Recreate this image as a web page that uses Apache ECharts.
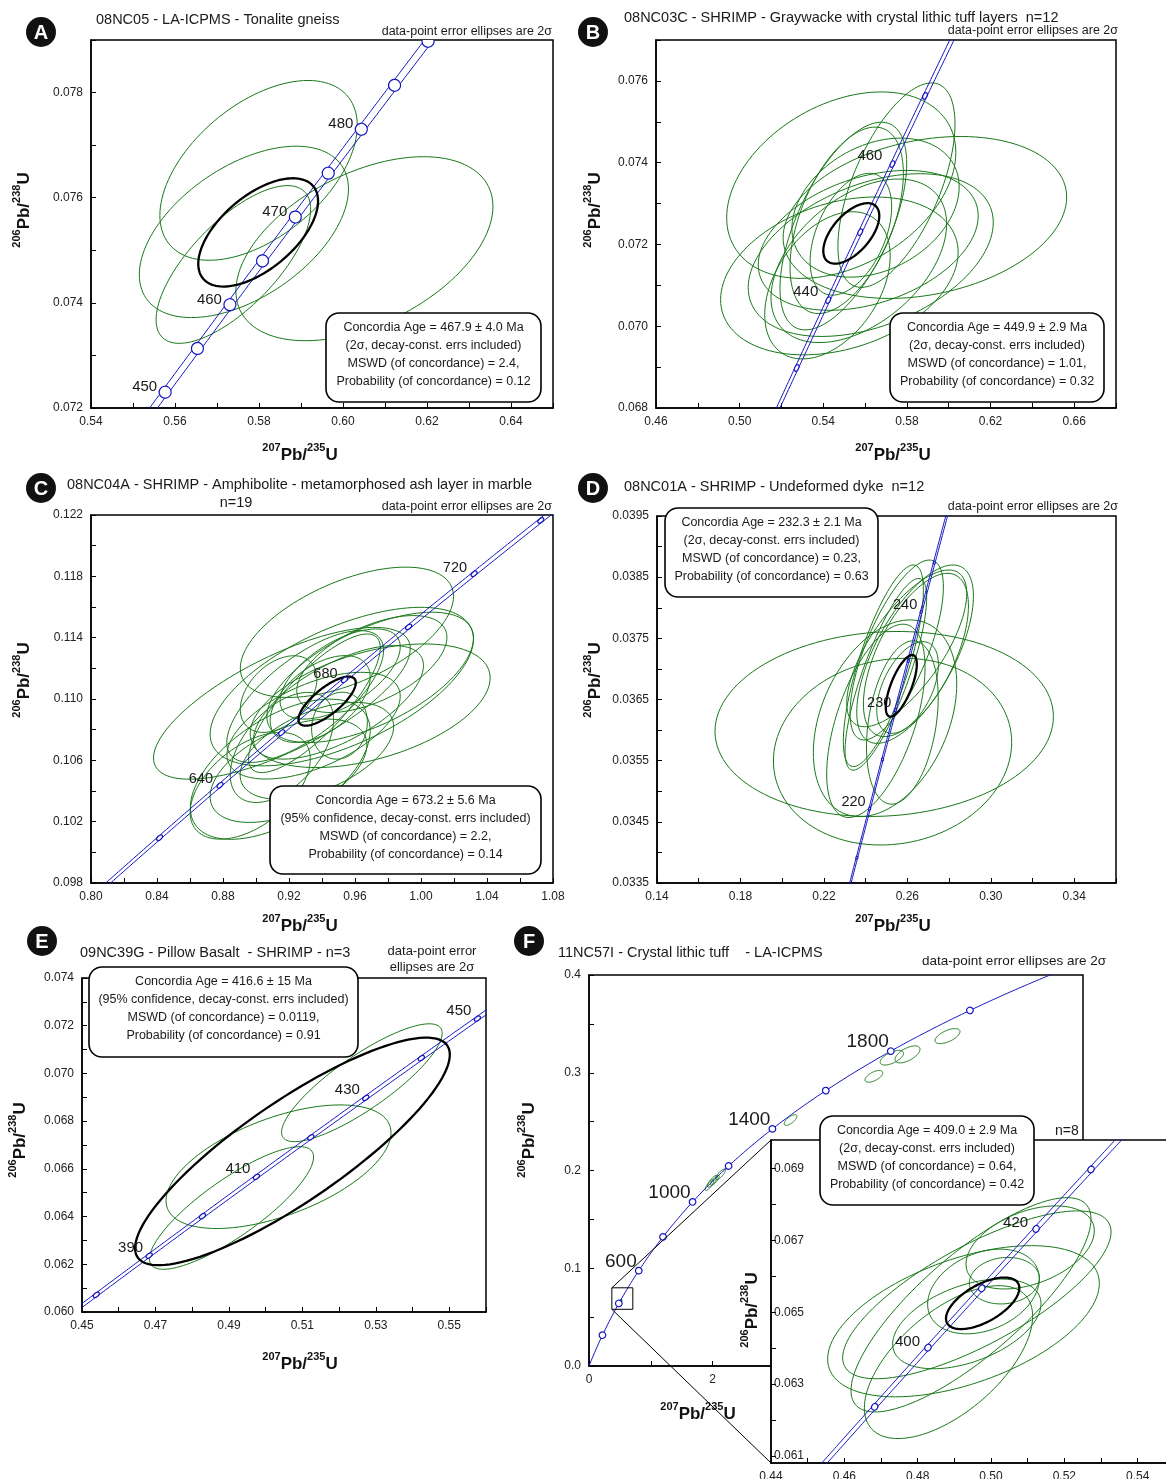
<!DOCTYPE html>
<html><head><meta charset="utf-8">
<script src="https://cdn.jsdelivr.net/npm/echarts@6/dist/echarts.min.js"></script>
<style>html,body{margin:0;padding:0;background:#fff}#c{width:1166px;height:1479px}</style>
</head><body><div id="c"></div>
<script>
// ---------------- DATA ----------------
// decay constants (per year) and relative 2-sigma error on lambda235 (concordia band)
const L235 = 9.8485e-10, L238 = 1.55125e-10, L235_REL = 0.00136;

// ellipses: [centre 207Pb/235U, centre 206Pb/238U, 2s half-width x, 2s half-width y, error correlation]
const A_ELL = [
  [0.5799, 0.07652, 0.0235, 0.00171, 0.50],
  [0.5764, 0.07535, 0.0249, 0.00163, 0.50],
  [0.5739, 0.07473, 0.0184, 0.00150, 0.70],
  [0.6051, 0.07503, 0.0306, 0.00175, 0.46]
];
const A_MEAN = [[0.5798, 0.07534, 0.01426, 0.00103, 0.58]];
const A_AGES = [450, 455, 460, 465, 470, 475, 480, 485, 490];
const A_LABELS = [450, 460, 470, 480, 490];

const B_ELL = [
  [0.5486, 0.07345, 0.0548, 0.00228, 0.35],
  [0.5886, 0.07266, 0.0678, 0.00198, 0.25],
  [0.5750, 0.07345, 0.0280, 0.00250, 0.60],
  [0.5477, 0.07123, 0.0568, 0.00193, 0.30],
  [0.5627, 0.07174, 0.0586, 0.00199, 0.40],
  [0.5496, 0.07245, 0.0303, 0.00254, 0.60],
  [0.5512, 0.07259, 0.0271, 0.00228, 0.50],
  [0.5615, 0.07210, 0.0526, 0.00171, 0.35],
  [0.5532, 0.07225, 0.0195, 0.00149, 0.45],
  [0.5570, 0.07160, 0.0420, 0.00200, 0.45],
  [0.5420, 0.07100, 0.0300, 0.00180, 0.40],
  [0.5650, 0.07290, 0.0400, 0.00170, 0.30]
];
const B_MEAN = [[0.5534, 0.07227, 0.01339, 0.00074, 0.58]];
const B_AGES = [430, 440, 450, 460, 470];
const B_LABELS = [440, 460];

const C_ELL = [
  [0.9551, 0.11435, 0.0646, 0.00425, 0.55],
  [0.9157, 0.10972, 0.0778, 0.00495, 0.72],
  [0.9692, 0.10956, 0.0727, 0.00403, 0.45],
  [0.9520, 0.11081, 0.0798, 0.00517, 0.60],
  [0.9692, 0.11141, 0.0626, 0.00425, 0.60],
  [0.9147, 0.10542, 0.0545, 0.00457, 0.55],
  [0.9197, 0.10532, 0.0475, 0.00337, 0.50],
  [0.9298, 0.11016, 0.0475, 0.00430, 0.70],
  [0.9354, 0.10972, 0.0399, 0.00452, 0.80],
  [0.9500, 0.10978, 0.0515, 0.00370, 0.65],
  [0.9389, 0.11000, 0.0303, 0.00283, 0.50],
  [0.9506, 0.10826, 0.0169, 0.00218, 0.10],
  [0.9157, 0.10684, 0.0313, 0.00359, 0.50],
  [0.9349, 0.10826, 0.0525, 0.00348, 0.55],
  [0.9510, 0.11163, 0.0364, 0.00294, 0.60],
  [0.9137, 0.11032, 0.0232, 0.00250, 0.40],
  [0.9702, 0.11228, 0.0455, 0.00316, 0.55],
  [0.9369, 0.10662, 0.0465, 0.00316, 0.50],
  [0.8965, 0.10434, 0.0364, 0.00348, 0.50]
];
const C_MEAN = [[0.9431, 0.10986, 0.01737, 0.00160, 0.75]];
const C_AGES = [620, 640, 660, 680, 700, 720, 740];
const C_LABELS = [640, 680, 720];

const D_ELL = [
  [0.2489, 0.036100, 0.0811, 0.001512, 0.08],
  [0.2529, 0.035647, 0.0571, 0.001526, 0.10],
  [0.2493, 0.036193, 0.03436, 0.001608, 0.35],
  [0.2449, 0.036151, 0.02357, 0.001580, 0.55],
  [0.2576, 0.036124, 0.01718, 0.001335, 0.30],
  [0.2485, 0.037051, 0.01918, 0.001648, 0.75],
  [0.2549, 0.037309, 0.02237, 0.001471, 0.70],
  [0.2637, 0.037241, 0.02796, 0.001458, 0.65],
  [0.2597, 0.037336, 0.02876, 0.001281, 0.70],
  [0.2641, 0.037228, 0.02517, 0.001335, 0.60],
  [0.2497, 0.036912, 0.01957, 0.001567, 0.80],
  [0.2601, 0.036696, 0.01478, 0.000749, 0.50]
];
const D_MEAN = [[0.2571, 0.036724, 0.00743, 0.000504, 0.70]];
const D_AGES = [215, 220, 225, 230, 235, 240, 245];
const D_LABELS = [220, 230, 240];

const E_ELL = [
  [0.5262, 0.06961, 0.02186, 0.00247, 0.84],
  [0.5035, 0.06609, 0.03063, 0.00259, 0.55],
  [0.4907, 0.06436, 0.02235, 0.00257, 0.83]
];
const E_MEAN = [[0.5073, 0.06673, 0.04285, 0.00477, 0.85]];
const E_AGES = [380, 390, 400, 410, 420, 430, 440, 450];
const E_LABELS = [390, 410, 430, 450];

const F_ELL = [
  [4.905, 0.3154, 0.189, 0.0075, 0.6],
  [5.158, 0.3188, 0.202, 0.0087, 0.6],
  [5.806, 0.3375, 0.202, 0.0077, 0.6],
  [4.614, 0.2963, 0.143, 0.0060, 0.6],
  [3.264, 0.2516, 0.1025, 0.00545, 0.7],
  [1.95, 0.185, 0.07, 0.0055, 0.8],
  [2.00, 0.189, 0.08, 0.0060, 0.8],
  [2.04, 0.190, 0.07, 0.0050, 0.8],
  [2.13, 0.196, 0.08, 0.0055, 0.8]
];
const F_AGES = [200, 400, 600, 800, 1000, 1200, 1400, 1600, 1800, 2000];
const F_LABELS = [600, 1000, 1400, 1800];
const F_ZOOM_BOX = [0.37, 0.058, 0.71, 0.080];

const FI_ELL = [
  [0.4925, 0.064750, 0.03705, 0.002106, 0.50],
  [0.49614, 0.065486, 0.0366, 0.002338, 0.75],
  [0.49455, 0.065208, 0.03273, 0.002986, 0.80],
  [0.48841, 0.063611, 0.02295, 0.002130, 0.60],
  [0.49341, 0.064676, 0.02023, 0.001250, 0.45],
  [0.49795, 0.065579, 0.01523, 0.001180, 0.30],
  [0.50364, 0.065880, 0.00955, 0.000648, 0.10],
  [0.51068, 0.066806, 0.0175, 0.001157, 0.40]
];
const FI_MEAN = [[0.49773, 0.06525, 0.0100, 0.000718, 0.59]];
const FI_AGES = [390, 400, 410, 420, 430];
const FI_LABELS = [400, 420];
const FI_Y_LABELS = [0.061, 0.063, 0.065, 0.067, 0.069];
const FI_Y_TICKS = [0.061, 0.062, 0.063, 0.064, 0.065, 0.066, 0.067, 0.068, 0.069];

// ---------------- STYLE / HELPERS ----------------
const FF = '"Liberation Sans", Arial, Helvetica, sans-serif';
const BLUE = '#1414c0', GREEN = '#187818';

function conc(t, s) { s = s || 0; return [Math.expm1(L235 * (1 + s * L235_REL) * t * 1e6), Math.expm1(L238 * t * 1e6)]; }
function concCurve(t0, t1, s) { const p = []; const n = 400; for (let i = 0; i <= n; i++) p.push(conc(t0 + (t1 - t0) * i / n, s)); return p; }

function ellipseRender(color, width) {
  return function (params, api) {
    const cx = api.value(0), cy = api.value(1), sx = api.value(2), sy = api.value(3), r = api.value(4);
    const q = Math.sqrt(1 - r * r), pts = [];
    for (let i = 0; i < 120; i++) {
      const th = i / 120 * 2 * Math.PI, c = Math.cos(th), s = Math.sin(th);
      pts.push(api.coord([cx + sx * c, cy + sy * (r * c + q * s)]));
    }
    return { type: 'polygon', shape: { points: pts }, style: { fill: 'none', stroke: color, lineWidth: width }, silent: true };
  };
}
function markerRender(m, labels) {
  return function (params, api) {
    const t = api.value(2);
    const p = api.coord([api.value(0), api.value(1)]);
    const p2 = api.coord(conc(t + 1));
    const ang = Math.atan2(p2[1] - p[1], p2[0] - p[0]);
    const ch = [{ type: 'ellipse', shape: { cx: 0, cy: 0, rx: m.rx, ry: m.ry }, x: p[0], y: p[1], rotation: -ang,
      style: { fill: '#fff', stroke: BLUE, lineWidth: 1.2 } }];
    if (labels.indexOf(t) >= 0) ch.push({ type: 'text', x: p[0] - m.dx, y: p[1] - m.dy,
      style: { text: String(t), align: 'right', textAlign: 'right', verticalAlign: 'middle', textVerticalAlign: 'middle',
        font: m.fs + 'px ' + FF, fill: '#1a1a1a' } });
    return { type: 'group', children: ch };
  };
}
function panelSeries(g, ell, mean, ages, labels, tr, m, zb, band) {
  const s = [];
  s.push({ type: 'custom', xAxisIndex: g, yAxisIndex: g, data: ell, encode: { x: 0, y: 1 }, renderItem: ellipseRender(GREEN, 1), clip: true, z: zb + 2, silent: true });
  (band ? [-1, 1] : [0]).forEach(sg => s.push({ type: 'line', xAxisIndex: g, yAxisIndex: g, data: concCurve(tr[0], tr[1], sg),
    showSymbol: false, symbol: 'none', lineStyle: { color: BLUE, width: 1 }, z: zb + 3, silent: true, clip: true }));
  if (mean) s.push({ type: 'custom', xAxisIndex: g, yAxisIndex: g, data: mean, encode: { x: 0, y: 1 }, renderItem: ellipseRender('#000', 2.3), clip: true, z: zb + 4, silent: true });
  s.push({ type: 'custom', xAxisIndex: g, yAxisIndex: g, data: ages.map(a => { const p = conc(a); return [p[0], p[1], a]; }),
    encode: { x: 0, y: 1 }, renderItem: markerRender(m, labels), clip: true, z: zb + 5, silent: true });
  return s;
}
function fmt(base, step, dec) { return v => { const k = (v - base) / step; return Math.abs(k - Math.round(k)) < 1e-4 ? v.toFixed(dec) : ''; }; }
function axis(g, min, max, interval, f, minor, extra) {
  return Object.assign({ type: 'value', gridIndex: g, min, max, interval, scale: true,
    axisLine: { show: true, onZero: false, lineStyle: { color: '#000', width: 1.5 } },
    axisTick: { show: true, inside: true, length: 5, lineStyle: { color: '#000', width: 1 } },
    minorTick: { show: !!minor, splitNumber: 2, length: 5, lineStyle: { color: '#000', width: 1 } },
    splitLine: { show: false }, minorSplitLine: { show: false },
    axisLabel: { formatter: f, color: '#222', fontSize: 12, fontFamily: FF, margin: 8 } }, extra || {});
}

// ---------------- LAYOUT ----------------
const grids = [
  { left: 91, top: 40, width: 462, height: 368 },
  { left: 656, top: 40, width: 460, height: 368 },
  { left: 91, top: 515, width: 462, height: 368 },
  { left: 657, top: 516, width: 459, height: 367 },
  { left: 82, top: 978, width: 404, height: 334 },
  { left: 589, top: 975, width: 494, height: 391 },
  { left: 771, top: 1140, width: 440, height: 323, z: 20, backgroundColor: '#fff' }
].map(g => Object.assign({ show: true, borderColor: '#000', borderWidth: 1.5, containLabel: false, outerBoundsMode: 'none' }, g));

const xAxes = [
  axis(0, 0.54, 0.65, 0.02, fmt(0.54, 0.02, 2), true),
  axis(1, 0.46, 0.68, 0.02, fmt(0.46, 0.04, 2), false),
  axis(2, 0.80, 1.08, 0.04, fmt(0.80, 0.04, 2), true),
  axis(3, 0.14, 0.36, 0.02, fmt(0.14, 0.04, 2), false),
  axis(4, 0.45, 0.56, 0.01, fmt(0.45, 0.02, 2), false),
  axis(5, 0, 8, 2, fmt(0, 2, 0), true),
  axis(6, 0.44, 0.56, 0.02, fmt(0.44, 0.02, 2), true, { z: 21 })
];
const yAxes = [
  axis(0, 0.072, 0.079, 0.002, fmt(0.072, 0.002, 3), true),
  axis(1, 0.068, 0.077, 0.002, fmt(0.068, 0.002, 3), true),
  axis(2, 0.098, 0.122, 0.002, fmt(0.098, 0.004, 3), false),
  axis(3, 0.0335, 0.0395, 0.0005, fmt(0.0335, 0.001, 4), false),
  axis(4, 0.060, 0.074, 0.002, fmt(0.060, 0.002, 3), true),
  axis(5, 0, 0.4, 0.1, fmt(0, 0.1, 1), true),
  {
    type: 'value', gridIndex: 6, min: 0.0608, max: 0.0698, z: 21,
    axisLine: { show: true, onZero: false, lineStyle: { color: '#000', width: 1.5 } },
    axisTick: { show: true, inside: true, length: 5, customValues: FI_Y_TICKS, lineStyle: { color: '#000' } },
    splitLine: { show: false },
    axisLabel: { inside: true, customValues: FI_Y_LABELS, formatter: v => v.toFixed(3), color: '#222', fontSize: 12, fontFamily: FF, margin: 3 }
  }
];

let series = [];
series = series.concat(panelSeries(0, A_ELL, A_MEAN, A_AGES, A_LABELS, [440, 500], { rx: 6, ry: 6, dx: 8, dy: 5, fs: 15 }, 0, true));
series = series.concat(panelSeries(1, B_ELL, B_MEAN, B_AGES, B_LABELS, [410, 490], { rx: 3.5, ry: 2, dx: 10, dy: 8, fs: 15 }, 0, true));
series = series.concat(panelSeries(2, C_ELL, C_MEAN, C_AGES, C_LABELS, [590, 760], { rx: 3.5, ry: 2, dx: 7, dy: 6, fs: 14.5 }, 0, true));
series = series.concat(panelSeries(3, D_ELL, D_MEAN, D_AGES, D_LABELS, [205, 255], { rx: 1.5, ry: 1, dx: 4, dy: 7, fs: 14.5 }, 0, true));
series = series.concat(panelSeries(4, E_ELL, E_MEAN, E_AGES, E_LABELS, [370, 460], { rx: 3.5, ry: 2, dx: 6, dy: 7.5, fs: 15 }, 0, true));
series = series.concat(panelSeries(5, F_ELL.concat(FI_ELL), null, F_AGES, F_LABELS, [0, 2400], { rx: 3.3, ry: 3.3, dx: 2, dy: 9, fs: 19 }, 0, false));
series.push({ type: 'custom', xAxisIndex: 5, yAxisIndex: 5, data: [F_ZOOM_BOX], encode: { x: 0, y: 1 }, clip: false, z: 6, silent: true,
  renderItem: (p, api) => { const a = api.coord([api.value(0), api.value(3)]), b = api.coord([api.value(2), api.value(1)]);
    return { type: 'rect', shape: { x: a[0], y: a[1], width: b[0] - a[0], height: b[1] - a[1] }, style: { fill: 'none', stroke: '#000', lineWidth: 1 } }; } });
series = series.concat(panelSeries(6, FI_ELL, FI_MEAN, FI_AGES, FI_LABELS, [370, 440], { rx: 3.5, ry: 3, dx: 8, dy: 6, fs: 15 }, 20, true));

// ---------------- ANNOTATIONS ----------------
const G = [];
let gid = 0;
function add(el) { el.id = 'g' + (gid++); if (el.z == null) el.z = 100; G.push(el); }
function letter(x, y, L) {
  add({ type: 'circle', shape: { cx: x, cy: y, r: 15 }, style: { fill: '#111' } });
  add({ type: 'text', z: 101, style: { text: L, x: x, y: y + 1, align: 'center', textAlign: 'center', verticalAlign: 'middle', textVerticalAlign: 'middle', font: 'bold 20px ' + FF, fill: '#fff' } });
}
function txt(x, y, s, size, align) {
  add({ type: 'text', style: { text: s, x: x, y: y, align: align || 'left', textAlign: align || 'left', verticalAlign: 'middle', textVerticalAlign: 'middle', font: size + 'px ' + FF, fill: '#1a1a1a' } });
}
function box(x, y, w, h, lines) {
  add({ type: 'rect', shape: { x: x, y: y, width: w, height: h, r: 13 }, style: { fill: '#fff', stroke: '#000', lineWidth: 1.6 } });
  lines.forEach((l, i) => add({ type: 'text', z: 101, style: { text: l, x: x + w / 2, y: y + 15 + i * 17.8, align: 'center', textAlign: 'center', verticalAlign: 'middle', textVerticalAlign: 'middle', font: '12.5px ' + FF, fill: '#1a1a1a' } }));
}
function axTitle(x, y, a, b, rot) {
  const rs = { fontSize: 11, fontWeight: 'bold', fontFamily: FF, verticalAlign: 'top', lineHeight: 12, fill: '#111' };
  const rb = { fontSize: 17, fontWeight: 'bold', fontFamily: FF, verticalAlign: 'bottom', lineHeight: 22, fill: '#111' };
  add({ type: 'text', x: x, y: y, rotation: rot ? Math.PI / 2 : 0,
    style: { text: '{s|' + a + '}{b|Pb/}{s|' + b + '}{b|U}', x: 0, y: 0, align: 'center', textAlign: 'center', verticalAlign: 'middle', textVerticalAlign: 'middle', rich: { s: rs, b: rb } } });
}
const DP = 'data-point error ellipses are 2σ';
letter(41, 32, 'A'); letter(593, 32, 'B'); letter(41, 488, 'C'); letter(593, 488, 'D'); letter(42, 941, 'E'); letter(529, 941, 'F');
txt(96, 20, '08NC05 - LA-ICPMS - Tonalite gneiss', 14.5);
txt(624, 18, '08NC03C - SHRIMP - Graywacke with crystal lithic tuff layers  n=12', 14.5);
txt(67, 485, '08NC04A - SHRIMP - Amphibolite - metamorphosed ash layer in marble', 14.5);
txt(236, 503, 'n=19', 14.5, 'center');
txt(624, 487, '08NC01A - SHRIMP - Undeformed dyke  n=12', 14.5);
txt(80, 953, '09NC39G - Pillow Basalt  - SHRIMP - n=3', 14.5);
txt(558, 953, '11NC57I - Crystal lithic tuff    - LA-ICPMS', 14.5);
txt(1055, 1131, 'n=8', 14);
txt(552, 32, DP, 12.5, 'right'); txt(1118, 31, DP, 12.5, 'right');
txt(552, 507, DP, 12.5, 'right'); txt(1118, 507, DP, 12.5, 'right');
txt(432, 951, 'data-point error', 13, 'center'); txt(432, 967, 'ellipses are 2σ', 13, 'center');
txt(1106, 961, DP, 13.5, 'right');
box(326, 313, 215, 89, ['Concordia Age = 467.9 ± 4.0 Ma', '(2σ, decay-const. errs included)', 'MSWD (of concordance) = 2.4,', 'Probability (of concordance) = 0.12']);
box(890, 313, 214, 89, ['Concordia Age = 449.9 ± 2.9 Ma', '(2σ, decay-const. errs included)', 'MSWD (of concordance) = 1.01,', 'Probability (of concordance) = 0.32']);
box(270, 786, 271, 88, ['Concordia Age = 673.2 ± 5.6 Ma', '(95% confidence, decay-const. errs included)', 'MSWD (of concordance) = 2.2,', 'Probability (of concordance) = 0.14']);
box(665, 508, 213, 89, ['Concordia Age = 232.3 ± 2.1 Ma', '(2σ, decay-const. errs included)', 'MSWD (of concordance) = 0.23,', 'Probability (of concordance) = 0.63']);
box(89, 967, 269, 90, ['Concordia Age = 416.6 ± 15 Ma', '(95% confidence, decay-const. errs included)', 'MSWD (of concordance) = 0.0119,', 'Probability (of concordance) = 0.91']);
box(820, 1116, 214, 89, ['Concordia Age = 409.0 ± 2.9 Ma', '(2σ, decay-const. errs included)', 'MSWD (of concordance) = 0.64,', 'Probability (of concordance) = 0.42']);
axTitle(300, 453, 207, 235); axTitle(22, 210, 206, 238, true);
axTitle(893, 453, 207, 235); axTitle(593, 210, 206, 238, true);
axTitle(300, 924, 207, 235); axTitle(22, 680, 206, 238, true);
axTitle(893, 924, 207, 235); axTitle(593, 680, 206, 238, true);
axTitle(300, 1362, 207, 235); axTitle(18, 1140, 206, 238, true);
axTitle(698, 1412, 207, 235); axTitle(527, 1140, 206, 238, true);
axTitle(750, 1310, 206, 238, true);

const chart = echarts.init(document.getElementById('c'), null, { renderer: 'canvas', width: 1166, height: 1479 });
chart.setOption({ animation: false, backgroundColor: '#fff', grid: grids, xAxis: xAxes, yAxis: yAxes, series: series, graphic: { elements: G } });

// connector lines from the zoom box in the main plot to the inset frame
const bTL = chart.convertToPixel({ gridIndex: 5 }, [F_ZOOM_BOX[0], F_ZOOM_BOX[3]]);
const bBL = chart.convertToPixel({ gridIndex: 5 }, [F_ZOOM_BOX[0], F_ZOOM_BOX[1]]);
const iTL = chart.convertToPixel({ gridIndex: 6 }, [0.44, 0.0698]);
const iBL = chart.convertToPixel({ gridIndex: 6 }, [0.44, 0.0608]);
G.push({ id: 'conn1', type: 'line', z: 30, shape: { x1: bTL[0], y1: bTL[1], x2: iTL[0], y2: iTL[1] }, style: { stroke: '#000', lineWidth: 1 } });
G.push({ id: 'conn2', type: 'line', z: 30, shape: { x1: bBL[0], y1: bBL[1], x2: iBL[0], y2: iBL[1] }, style: { stroke: '#000', lineWidth: 1 } });
chart.setOption({ graphic: { elements: G } });
</script></body></html>
